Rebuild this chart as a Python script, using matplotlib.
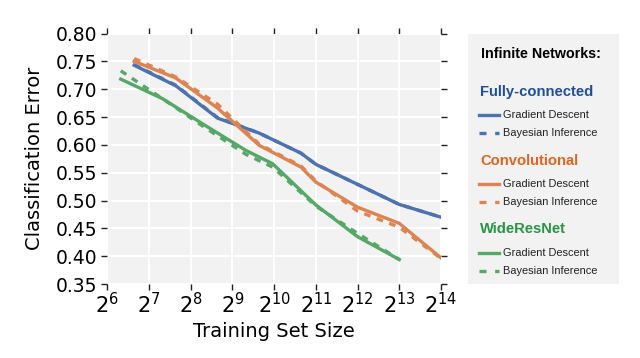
import matplotlib.pyplot as plt
import numpy as np

# training set sizes and classification errors
fc_n = [100, 200, 400, 800, 1600, 2048, 8192, 16384]
fc_gd = [0.743, 0.706, 0.648, 0.621, 0.585, 0.565, 0.493, 0.470]
fc_bi = [0.744, 0.707, 0.649, 0.621, 0.585, 0.565, 0.493, 0.470]

conv_n = [100, 200, 400, 800, 1600, 2048, 4096, 8192, 16384]
conv_gd = [0.750, 0.720, 0.666, 0.599, 0.560, 0.533, 0.488, 0.459, 0.397]
conv_bi = [0.755, 0.722, 0.673, 0.601, 0.562, 0.535, 0.481, 0.452, 0.396]

wrn_n = [80, 160, 320, 640, 1000, 2048, 4096, 8192]
wrn_gd = [0.718, 0.683, 0.636, 0.590, 0.566, 0.492, 0.435, 0.394]
wrn_bi = [0.733, 0.683, 0.632, 0.583, 0.560, 0.490, 0.441, 0.394]

xticks = [2 ** k for k in range(6, 15)]
xticklabels = ['$2^{%d}$' % k for k in range(6, 15)]
yticks = np.round(np.arange(0.35, 0.801, 0.05), 2)

blue = '#4C72B0'
orange = '#DD8452'
green = '#55A868'
lw = 2.4

fig = plt.figure(figsize=(6.4, 3.58), dpi=100)
ax = fig.add_axes([0.1677, 0.2067, 0.689 - 0.1677, 0.9064 - 0.2067])
ax.set_facecolor('#f2f2f2')
for s in ax.spines.values():
    s.set_visible(False)
ax.grid(True, color='white', linewidth=1.5)
ax.set_axisbelow(True)

ax.plot(fc_n, fc_gd, color=blue, lw=lw)
ax.plot(fc_n, fc_bi, color=blue, lw=lw, ls=(0, (2, 2)))
ax.plot(conv_n, conv_gd, color=orange, lw=lw)
ax.plot(conv_n, conv_bi, color=orange, lw=lw, ls=(0, (2, 2)))
ax.plot(wrn_n, wrn_gd, color=green, lw=lw)
ax.plot(wrn_n, wrn_bi, color=green, lw=lw, ls=(0, (2, 2)))

ax.set_xscale('log', base=2)
ax.set_xlim(2 ** 6, 2 ** 14)
ax.set_ylim(0.35, 0.80)
ax.set_xticks(xticks)
ax.set_xticklabels(xticklabels)
ax.minorticks_off()
ax.set_yticks(yticks)
ax.set_yticklabels(['%.2f' % v for v in yticks])
ax.tick_params(axis='both', which='both', direction='out', length=4, width=1,
               top=True, right=True, color='#222222')
ax.tick_params(axis='y', labelsize=13.5)
ax.tick_params(axis='x', labelsize=15, pad=2)
ax.set_xlabel('Training Set Size', fontsize=14, labelpad=3)
ax.set_ylabel('Classification Error', fontsize=14, labelpad=8)

# legend panel
lg = fig.add_axes([0.731, 0.208, 0.967 - 0.731, 0.905 - 0.208])
lg.set_facecolor('#f2f2f2')
lg.set_xlim(468, 619)
lg.set_ylim(283.5, 34)
lg.set_xticks([])
lg.set_yticks([])
for s in lg.spines.values():
    s.set_visible(False)

font = 'Liberation Sans'
lg.text(481, 53.5, 'Infinite Networks:', fontsize=10.3, fontweight='bold',
        family=font, va='center', ha='left')
groups = [('Fully-connected', '#1f4e9c', blue, 91.7),
          ('Convolutional', '#e0651e', orange, 160.7),
          ('WideResNet', '#2a9445', green, 229)]
for name, tcol, lcol, y in groups:
    lg.text(480.5, y, name, fontsize=10.6, fontweight='bold', color=tcol,
            family=font, va='center', ha='left')
    lg.plot([478.7, 499], [y + 23.5, y + 23.5], color=lcol, lw=2.4)
    lg.plot([478.7, 499], [y + 41.5, y + 41.5], color=lcol, lw=2.4,
            ls=(0, (2.1, 2.6)))
    lg.text(503.5, y + 23.5, 'Gradient Descent', fontsize=7.9, family=font,
            va='center', ha='left', color='#222222')
    lg.text(503.5, y + 41.5, 'Bayesian Inference', fontsize=7.9, family=font,
            va='center', ha='left', color='#222222')

fig.savefig('out.png', dpi=100)
